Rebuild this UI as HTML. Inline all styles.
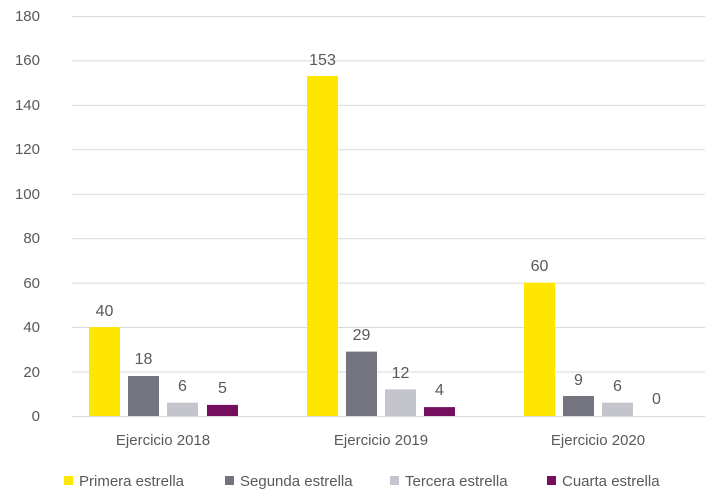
<!DOCTYPE html>
<html><head><meta charset="utf-8"><style>body{margin:0;background:#fff}svg{display:block}text{font-family:"Liberation Sans",sans-serif;fill:#595959}</style></head><body>
<svg width="719" height="498" viewBox="0 0 719 498">
<g stroke="#d9d9d9" stroke-width="1">
<line x1="72" x2="705" y1="16.5" y2="16.5"/><line x1="72" x2="705" y1="60.9" y2="60.9"/><line x1="72" x2="705" y1="105.4" y2="105.4"/><line x1="72" x2="705" y1="149.8" y2="149.8"/><line x1="72" x2="705" y1="194.2" y2="194.2"/><line x1="72" x2="705" y1="238.7" y2="238.7"/><line x1="72" x2="705" y1="283.1" y2="283.1"/><line x1="72" x2="705" y1="327.5" y2="327.5"/><line x1="72" x2="705" y1="372" y2="372"/><line x1="72" x2="705" y1="416.5" y2="416.5"/>
</g>
<g font-size="15" text-anchor="end">
<text x="40" y="21">180</text><text x="40" y="65">160</text><text x="40" y="110">140</text><text x="40" y="154">120</text><text x="40" y="199">100</text><text x="40" y="243">80</text><text x="40" y="288">60</text><text x="40" y="332">40</text><text x="40" y="377">20</text><text x="40" y="421">0</text>
</g>
<rect x="89" y="327.1" width="31" height="88.9" fill="#FFE600"/>
<rect x="128" y="376" width="31" height="40" fill="#747480"/>
<rect x="167" y="402.7" width="31" height="13.3" fill="#C4C4CD"/>
<rect x="207" y="404.9" width="31" height="11.1" fill="#750E5C"/>
<rect x="307" y="76" width="31" height="340" fill="#FFE600"/>
<rect x="346" y="351.6" width="31" height="64.4" fill="#747480"/>
<rect x="385" y="389.3" width="31" height="26.7" fill="#C4C4CD"/>
<rect x="424" y="407.1" width="31" height="8.9" fill="#750E5C"/>
<rect x="524" y="282.7" width="31" height="133.3" fill="#FFE600"/>
<rect x="563" y="396" width="31" height="20" fill="#747480"/>
<rect x="602" y="402.7" width="31" height="13.3" fill="#C4C4CD"/>
<g font-size="16" text-anchor="middle">
<text x="104.5" y="316">40</text><text x="143.5" y="364">18</text><text x="182.5" y="391">6</text><text x="222.5" y="393">5</text>
<text x="322.5" y="65">153</text><text x="361.5" y="340">29</text><text x="400.5" y="378">12</text><text x="439.5" y="395">4</text>
<text x="539.5" y="271">60</text><text x="578.5" y="385">9</text><text x="617.5" y="391">6</text><text x="656.5" y="404">0</text>
</g>
<g font-size="15" text-anchor="middle">
<text x="163" y="445">Ejercicio 2018</text><text x="381" y="445">Ejercicio 2019</text><text x="598" y="445">Ejercicio 2020</text>
</g>
<g font-size="15">
<rect x="64" y="476" width="9" height="9" fill="#FFE600"/><text x="79" y="486">Primera estrella</text>
<rect x="225" y="476" width="9" height="9" fill="#747480"/><text x="240" y="486">Segunda estrella</text>
<rect x="390" y="476" width="9" height="9" fill="#C4C4CD"/><text x="405" y="486">Tercera estrella</text>
<rect x="547" y="476" width="9" height="9" fill="#750E5C"/><text x="562" y="486">Cuarta estrella</text>
</g>
</svg>
</body></html>
